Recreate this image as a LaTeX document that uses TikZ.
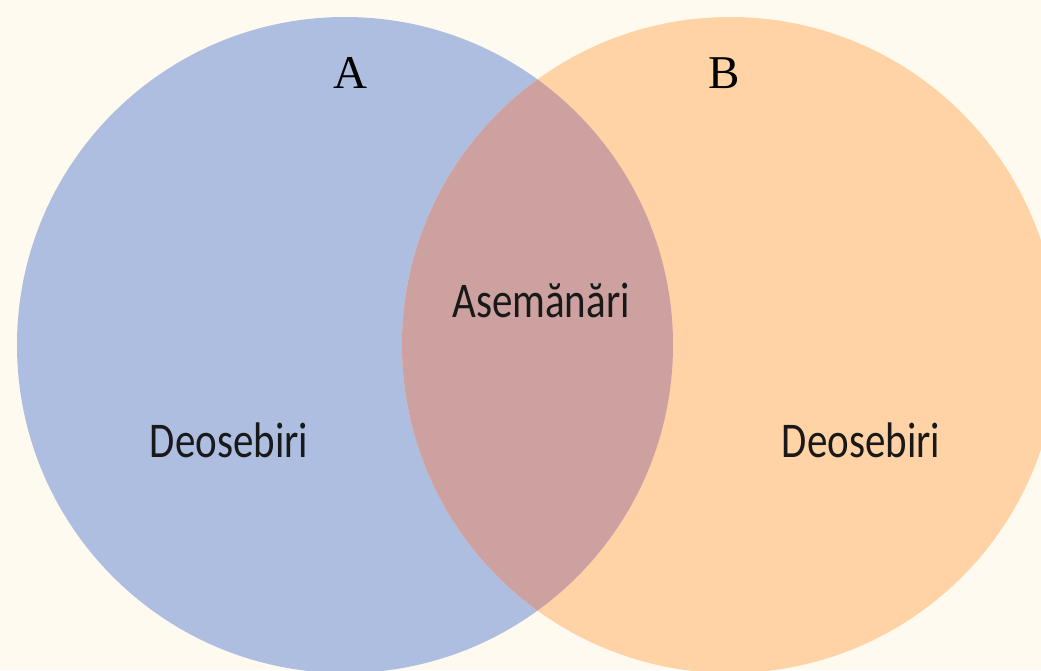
\documentclass[tikz,border=0pt]{standalone}
\usepackage{fontspec}
\setmainfont{Liberation Serif}
\newfontfamily\labfont{Carlito}
\definecolor{bgc}{RGB}{255,250,240}
\definecolor{setA}{RGB}{174,190,224}
\definecolor{setB}{RGB}{255,211,166}
\definecolor{setAB}{RGB}{205,161,160}
\begin{document}
\begin{tikzpicture}[x=1pt,y=-1pt,
  setname/.style={anchor=base,inner sep=0pt,font=\fontsize{47}{50}\selectfont,text=black},
  region/.style={anchor=base,inner sep=0pt,font=\labfont\fontsize{50}{54}\selectfont,text=black!90}]
\fill[bgc] (0,0) rectangle (1041,670);
\useasboundingbox (0,0) rectangle (1041,670);
\begin{scope}
\clip (0,0) rectangle (1041,670);
\fill[setA] (345,345) circle[radius=328];
\fill[setB] (730,345) circle[radius=328];
\clip (345,345) circle[radius=328];
\fill[setAB] (730,345) circle[radius=328];
\end{scope}
\node[setname] (la) at (350,88) {A};
\node[setname] (lb) at (724,88) {B};
\node[region] (common) at (541,317) {\scalebox{0.82}[1]{Asemănări}};
\node[region] (diffA) at (229,457) {\scalebox{0.82}[1]{Deosebiri}};
\node[region] (diffB) at (861,457) {\scalebox{0.82}[1]{Deosebiri}};
\end{tikzpicture}
\end{document}
